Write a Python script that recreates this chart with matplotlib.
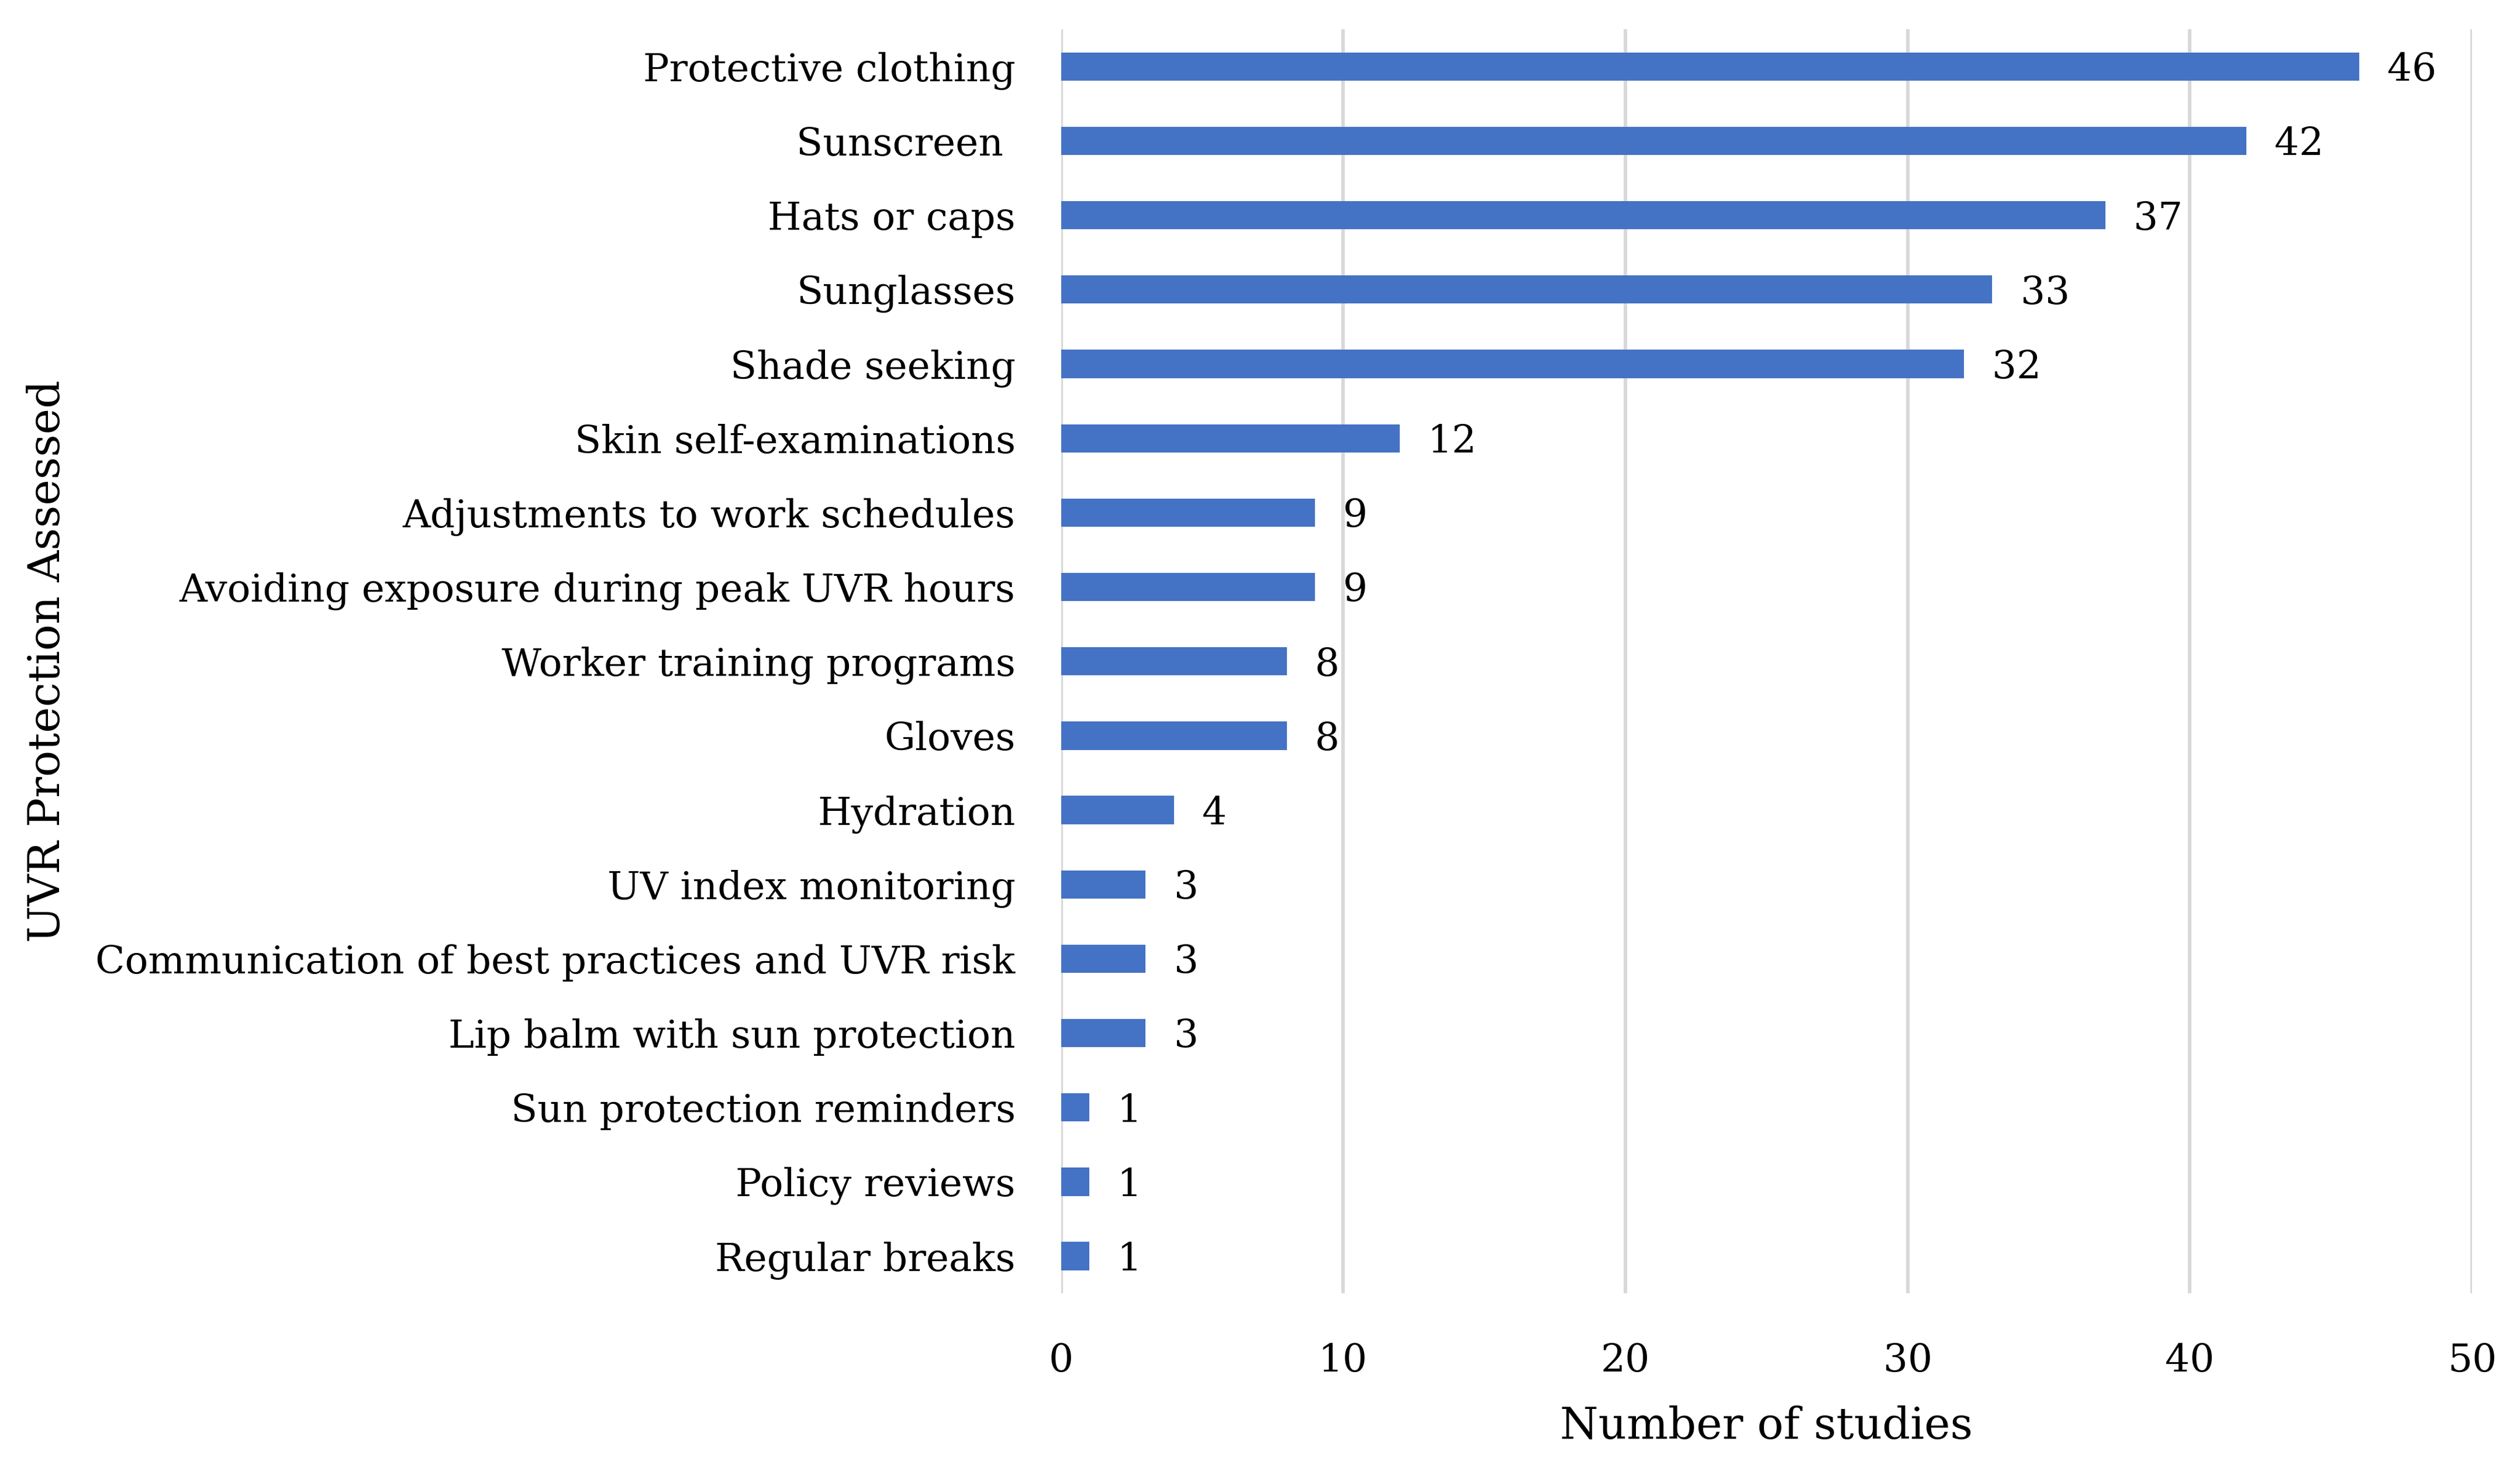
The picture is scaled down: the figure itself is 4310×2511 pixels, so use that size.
import matplotlib.pyplot as plt

categories = [
    'Protective clothing', 'Sunscreen ', 'Hats or caps', 'Sunglasses',
    'Shade seeking', 'Skin self-examinations', 'Adjustments to work schedules',
    'Avoiding exposure during peak UVR hours', 'Worker training programs',
    'Gloves', 'Hydration', 'UV index monitoring',
    'Communication of best practices and UVR risk',
    'Lip balm with sun protection', 'Sun protection reminders',
    'Policy reviews', 'Regular breaks',
]
studies = [46, 42, 37, 33, 32, 12, 9, 9, 8, 8, 4, 3, 3, 3, 1, 1, 1]
xticks = [0, 10, 20, 30, 40, 50]

plt.rcParams['font.family'] = ['DejaVu Serif']
fs = 23.8
fs_title = 27

fig = plt.figure(figsize=(21.55, 12.555), dpi=200)
ax = fig.add_axes([0.421, 0.119, 0.560, 0.861])

ypos = list(range(len(categories)))
ax.barh(ypos, studies, height=0.38, color='#4472C4', zorder=3)

# value labels just right of each bar
for y, v in zip(ypos, studies):
    ax.text(v + 1.0, y + 0.05, str(v), va='center', ha='left', fontsize=fs, color='black')

ax.set_xlim(0, 50)
ax.set_ylim(len(categories) - 0.5, -0.5)
ax.set_xticks(xticks)
ax.set_yticks(ypos)
ax.set_yticklabels(categories, fontsize=fs)
ax.tick_params(axis='x', labelsize=fs, length=0, pad=30)
ax.tick_params(axis='y', length=0, pad=28)

ax.grid(axis='x', color='#D9D9D9', linewidth=2.2, zorder=0)
for s in ax.spines.values():
    s.set_visible(False)

ax.set_xlabel('Number of studies', fontsize=fs_title, labelpad=16)
# y title sits far left, centred on the plot area
fig.text(0.019, 0.119 + 0.861 / 2, 'UVR Protection Assessed', rotation=90,
         va='center', ha='center', fontsize=fs_title)

fig.savefig('out.png', dpi=200)
